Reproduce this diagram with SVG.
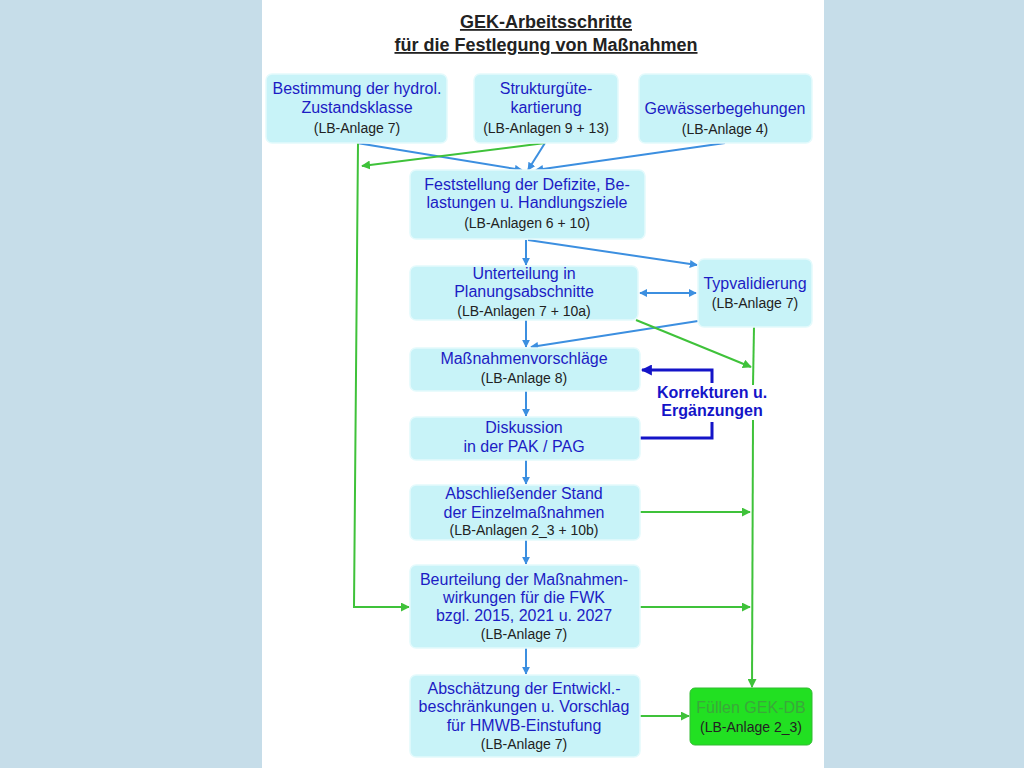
<svg xmlns="http://www.w3.org/2000/svg" width="1024" height="768" viewBox="0 0 1024 768">
<defs>
<style>
.box{fill:#c8f3f8;stroke:#e4fafc;stroke-width:1.5}
.t{font-family:"Liberation Sans",Arial,sans-serif;font-size:16px;fill:#1c1cc4;text-anchor:middle}
.s{font-family:"Liberation Sans",Arial,sans-serif;font-size:14px;fill:#222;text-anchor:middle}
.b{stroke:#3c8fe0;stroke-width:2;fill:none}
.g{stroke:#3fc23a;stroke-width:2;fill:none}
.d{stroke:#1414c8;stroke-width:3;fill:none}
</style>
<marker id="ab" viewBox="0 0 10 10" refX="9" refY="5" markerWidth="8" markerHeight="8" orient="auto-start-reverse" markerUnits="userSpaceOnUse"><path d="M0,0 L10,5 L0,10 z" fill="#3c8fe0"/></marker>
<marker id="ag" viewBox="0 0 10 10" refX="9" refY="5" markerWidth="9" markerHeight="9" orient="auto" markerUnits="userSpaceOnUse"><path d="M0,0 L10,5 L0,10 z" fill="#3fc23a"/></marker>
<marker id="ad" viewBox="0 0 10 10" refX="9" refY="5" markerWidth="11" markerHeight="11" orient="auto" markerUnits="userSpaceOnUse"><path d="M0,0 L10,5 L0,10 z" fill="#1414c8"/></marker>
</defs>
<rect x="0" y="0" width="1024" height="768" fill="#c6dde9"/>
<rect x="262" y="0" width="562" height="768" fill="#ffffff"/>
<g id="title" font-family="Liberation Sans,Arial,sans-serif" font-weight="bold" font-size="18" fill="#222" text-anchor="middle" text-decoration="underline">
<text x="546" y="28">GEK-Arbeitsschritte</text>
<text x="546" y="51">für die Festlegung von Maßnahmen</text>
</g>
<g id="connectors">
<line class="b" x1="357" y1="143" x2="522" y2="170" marker-end="url(#ab)"/>
<line class="b" x1="545" y1="143" x2="528" y2="170" marker-end="url(#ab)"/>
<line class="b" x1="725" y1="143" x2="536" y2="170" marker-end="url(#ab)"/>
<line class="b" x1="526" y1="240" x2="526" y2="265" marker-end="url(#ab)"/>
<line class="b" x1="528" y1="240" x2="697" y2="265" marker-end="url(#ab)"/>
<line class="b" x1="640" y1="293" x2="696" y2="293" marker-start="url(#ab)" marker-end="url(#ab)"/>
<line class="b" x1="526" y1="320" x2="526" y2="347" marker-end="url(#ab)"/>
<line class="b" x1="698" y1="321" x2="531" y2="347" marker-end="url(#ab)"/>
<line class="b" x1="526" y1="391" x2="526" y2="416" marker-end="url(#ab)"/>
<line class="b" x1="526" y1="460" x2="526" y2="484" marker-end="url(#ab)"/>
<line class="b" x1="526" y1="540" x2="526" y2="564" marker-end="url(#ab)"/>
<line class="b" x1="526" y1="648" x2="526" y2="674" marker-end="url(#ab)"/>
<line class="g" x1="545" y1="143" x2="362" y2="166" marker-end="url(#ag)"/>
<polyline class="g" points="358,143 354,607 409,607" marker-end="url(#ag)"/>
<line class="g" x1="636" y1="320" x2="751" y2="367" marker-end="url(#ag)"/>
<line class="g" x1="754" y1="327" x2="753" y2="385"/>
<line class="g" x1="753" y1="420" x2="752" y2="687" marker-end="url(#ag)"/>
<line class="g" x1="640" y1="512" x2="750" y2="512" marker-end="url(#ag)"/>
<line class="g" x1="640" y1="607" x2="750" y2="607" marker-end="url(#ag)"/>
<line class="g" x1="640" y1="716" x2="689" y2="716" marker-end="url(#ag)"/>
<polyline class="d" points="640,438 712,438 712,422"/>
<polyline class="d" points="712,383 712,370 642,370" marker-end="url(#ad)"/>
</g>
<g id="n1"><rect class="box" x="266" y="74" width="181" height="69" rx="6"/>
<text class="t" x="357" y="94">Bestimmung der hydrol.</text><text class="t" x="357" y="113">Zustandsklasse</text><text class="s" x="357" y="133">(LB-Anlage 7)</text></g>
<g id="n2"><rect class="box" x="474" y="74" width="144" height="69" rx="6"/>
<text class="t" x="546" y="94">Strukturgüte-</text><text class="t" x="546" y="113">kartierung</text><text class="s" x="546" y="133">(LB-Anlagen 9 + 13)</text></g>
<g id="n3"><rect class="box" x="639" y="74" width="173" height="69" rx="6"/>
<text class="t" x="725" y="114">Gewässerbegehungen</text><text class="s" x="725" y="134">(LB-Anlage 4)</text></g>
<g id="n4"><rect class="box" x="410" y="170" width="235" height="69" rx="6"/>
<text class="t" x="527" y="190">Feststellung der Defizite, Be-</text><text class="t" x="527" y="208">lastungen u. Handlungsziele</text><text class="s" x="527" y="228">(LB-Anlagen 6 + 10)</text></g>
<g id="n5"><rect class="box" x="410" y="266" width="228" height="54" rx="6"/>
<text class="t" x="524" y="279">Unterteilung in</text><text class="t" x="524" y="297">Planungsabschnitte</text><text class="s" x="524" y="316">(LB-Anlagen 7 + 10a)</text></g>
<g id="n6"><rect class="box" x="698" y="259" width="114" height="68" rx="6"/>
<text class="t" x="755" y="289">Typvalidierung</text><text class="s" x="755" y="308">(LB-Anlage 7)</text></g>
<g id="n7"><rect class="box" x="410" y="348" width="230" height="43" rx="6"/>
<text class="t" x="524" y="364">Maßnahmenvorschläge</text><text class="s" x="524" y="383">(LB-Anlage 8)</text></g>
<g id="n8"><rect class="box" x="410" y="417" width="230" height="43" rx="6"/>
<text class="t" x="524" y="433">Diskussion</text><text class="t" x="524" y="452">in der PAK / PAG</text></g>
<g id="n9"><rect class="box" x="410" y="485" width="230" height="55" rx="6"/>
<text class="t" x="524" y="499">Abschließender Stand</text><text class="t" x="524" y="518">der Einzelmaßnahmen</text><text class="s" x="524" y="535">(LB-Anlagen 2_3 + 10b)</text></g>
<g id="n10"><rect class="box" x="410" y="565" width="230" height="83" rx="6"/>
<text class="t" x="524" y="585">Beurteilung der Maßnahmen-</text><text class="t" x="524" y="603">wirkungen für die FWK</text><text class="t" x="524" y="621">bzgl. 2015, 2021 u. 2027</text><text class="s" x="524" y="639">(LB-Anlage 7)</text></g>
<g id="n11"><rect class="box" x="410" y="675" width="230" height="82" rx="6"/>
<text class="t" x="524" y="694">Abschätzung der Entwickl.-</text><text class="t" x="524" y="712">beschränkungen u. Vorschlag</text><text class="t" x="524" y="731">für HMWB-Einstufung</text><text class="s" x="524" y="749">(LB-Anlage 7)</text></g>
<g id="n12"><rect x="690" y="688" width="122" height="57" rx="5" fill="#22e022" stroke="#33bb33" stroke-width="1"/>
<text class="t" x="751" y="713" style="fill:#3aa83a">Füllen GEK-DB</text><text class="s" x="751" y="732">(LB-Anlage 2_3)</text></g>
<g id="label"><text x="712" y="398" font-family="Liberation Sans,Arial,sans-serif" font-weight="bold" font-size="16" fill="#1414c8" text-anchor="middle">Korrekturen u.</text>
<text x="712" y="416" font-family="Liberation Sans,Arial,sans-serif" font-weight="bold" font-size="16" fill="#1414c8" text-anchor="middle">Ergänzungen</text></g>
</svg>
